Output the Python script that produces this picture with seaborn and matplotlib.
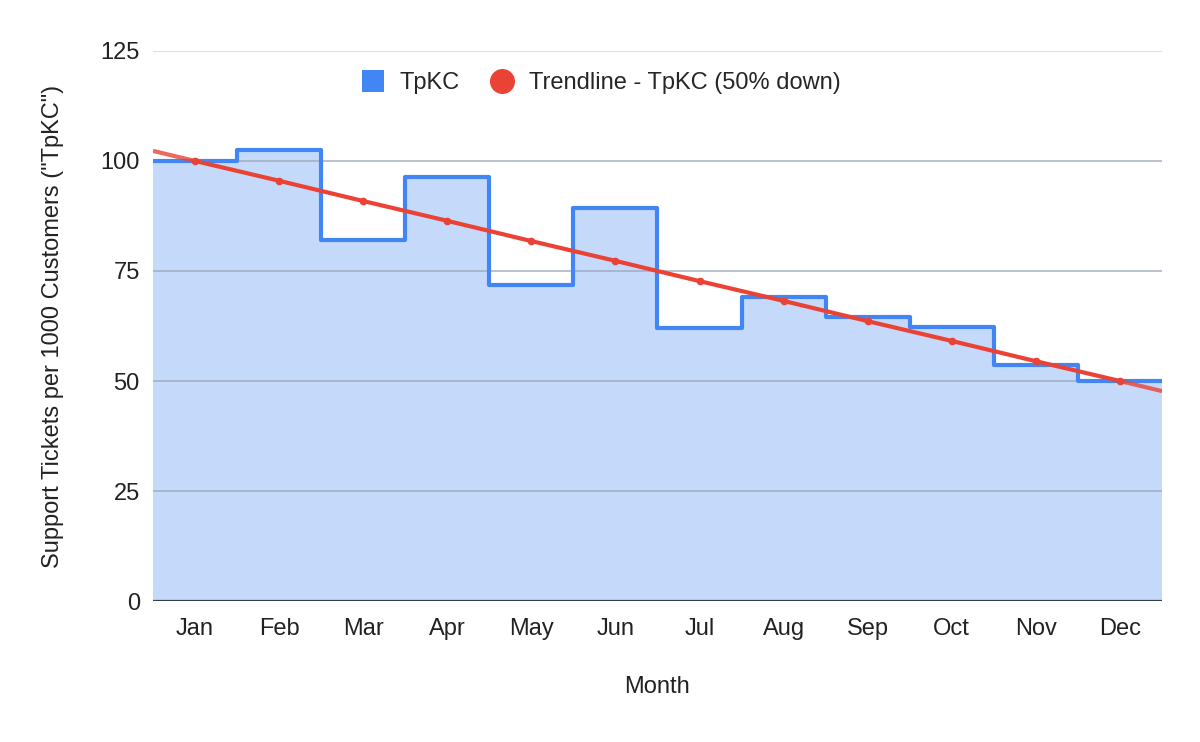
import numpy as np
import pandas as pd
import matplotlib
matplotlib.use("Agg")
import matplotlib.pyplot as plt
import seaborn as sns
from matplotlib.lines import Line2D

months = ["Jan", "Feb", "Mar", "Apr", "May", "Jun", "Jul", "Aug", "Sep", "Oct", "Nov", "Dec"]
tpkc = [100.0, 102.5, 82.0, 96.4, 71.8, 89.3, 62.0, 69.1, 64.5, 62.3, 53.6, 50.0]
trend = [100.0, 95.5, 90.9, 86.4, 81.8, 77.3, 72.7, 68.2, 63.6, 59.1, 54.5, 50.0]
yticks = [0, 25, 50, 75, 100, 125]

BLUE = "#4285F4"
RED = "#EA4335"
TXT = "#222222"
FS = 17

sns.set_theme(style="white")
plt.rcParams["font.family"] = ["Liberation Sans", "DejaVu Sans"]

fig = plt.figure(figsize=(12, 7.42), dpi=100)
ax = fig.add_axes([0.1275, 0.19, 0.8408, 0.7413])

idx = np.arange(len(months))
edges = np.append(idx - 0.5, idx[-1] + 0.5)
step_vals = np.append(tpkc, tpkc[-1])
step_df = pd.DataFrame({"x": edges, "y": step_vals})

ax.fill_between(edges, step_vals, 0, step="post", color=BLUE, alpha=0.3, linewidth=0, zorder=1)
for yt in yticks[1:]:
    ax.axhline(yt, color="#9aa5b8" if yt < 125 else "#cccccc", lw=1.2, zorder=1.5, alpha=0.8)
sns.lineplot(data=step_df, x="x", y="y", drawstyle="steps-post", color=BLUE, lw=3,
             solid_joinstyle="round", solid_capstyle="butt", ax=ax, zorder=3)

coef = np.polyfit(idx, trend, 1)
xl, xr = -0.5, 11.5
ax.plot([xl, 0], [np.polyval(coef, xl), trend[0]], color=RED, lw=3, alpha=0.8, zorder=4, solid_capstyle="butt")
ax.plot([11, xr], [trend[-1], np.polyval(coef, xr)], color=RED, lw=3, alpha=0.8, zorder=4, solid_capstyle="butt")
trend_df = pd.DataFrame({"x": idx, "y": trend})
sns.lineplot(data=trend_df, x="x", y="y", color=RED, lw=3, marker="o", markersize=5.5,
             markeredgewidth=0, ax=ax, zorder=5)

ax.axhline(0, color="#333f50", lw=1.6, zorder=6)

ax.set_xlim(-0.5, 11.5)
ax.set_ylim(0, 125)
ax.set_yticks(yticks)
ax.set_yticklabels([str(v) for v in yticks], fontsize=FS, color=TXT)
ax.set_xticks(idx)
ax.set_xticklabels(months, fontsize=FS, color=TXT)
ax.tick_params(axis="x", length=0, pad=12)
ax.tick_params(axis="y", length=0, pad=9.5)
for s in ax.spines.values():
    s.set_visible(False)

ax.set_xlabel("Month", fontsize=FS, color=TXT, labelpad=26)
ax.set_ylabel('Support Tickets per 1000 Customers ("TpKC")', fontsize=FS, color=TXT, labelpad=26)

handles = [
    Line2D([0], [0], marker="s", color="none", markerfacecolor=BLUE, markeredgewidth=0, markersize=16.5),
    Line2D([0], [0], marker="o", color="none", markerfacecolor=RED, markeredgewidth=0, markersize=18),
]
ax.legend(handles, ["TpKC", "Trendline - TpKC (50% down)"], loc="upper center",
          bbox_to_anchor=(0.444, 1.0), ncol=2, frameon=False, fontsize=FS,
          handlelength=1.0, handletextpad=0.62, columnspacing=1.3, borderaxespad=0.5)

fig.savefig("out.png", dpi=100)
